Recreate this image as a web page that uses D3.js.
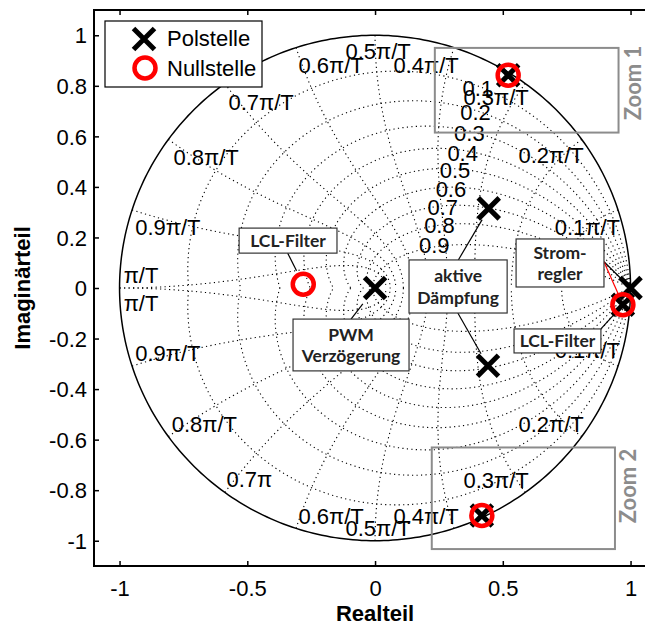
<!DOCTYPE html>
<html><head><meta charset="utf-8">
<script src="https://cdn.jsdelivr.net/npm/d3@7"></script>
<style>body{margin:0;background:#fff}svg{display:block}</style>
</head><body><svg id="c" width="645" height="626"></svg>
<script>
// ---------- data ----------
const xTicks = [-1, -0.5, 0, 0.5, 1];
const xTickLabels = ["-1", "-0.5", "0", "0.5", "1"];
const yTicks = [-1, -0.8, -0.6, -0.4, -0.2, 0, 0.2, 0.4, 0.6, 0.8, 1];
const yTickLabels = ["-1", "-0.8", "-0.6", "-0.4", "-0.2", "0", "0.2", "0.4", "0.6", "0.8", "1"];
const zetaValues = [0.1, 0.2, 0.3, 0.4, 0.5, 0.6, 0.7, 0.8, 0.9];
const wnValues = [0.1, 0.2, 0.3, 0.4, 0.5, 0.6, 0.7, 0.8, 0.9, 1.0]; // × π/T
const poleRe = [0, 0.445, 0.442, 0.521, 0.418, 1.0, 0.97];
const poleIm = [0, 0.315, -0.308, 0.842, -0.900, 0, -0.066];
const zeroRe = [-0.281, 0.521, 0.418, 0.97];
const zeroIm = [0.015, 0.842, -0.900, -0.066];
const zetaLabels = ["0.1", "0.2", "0.3", "0.4", "0.5", "0.6", "0.7", "0.8", "0.9"];
const freqLabelsUpper = ["0.1π/T", "0.2π/T", "0.3π/T", "0.4π/T", "0.5π/T", "0.6π/T", "0.7π/T", "0.8π/T", "0.9π/T", "π/T"];
const freqLabelsLower = ["0.1π/T", "0.2π/T", "0.3π/T", "0.4π/T", "0.5π/T", "0.6π/T", "0.7π", "0.8π/T", "0.9π/T", "π/T"];
const legendLabels = ["Polstelle", "Nullstelle"];

// ---------- label anchors (data units) ----------
const zetaLabelPos = [[0.402,0.789],[0.393,0.697],[0.369,0.611],[0.343,0.532],[0.313,0.466],[0.297,0.390],[0.265,0.321],[0.252,0.249],[0.232,0.170]];
const freqUpperPos = [[0.831,0.242],[0.689,0.526],[0.474,0.756],[0.200,0.881],[0.012,0.937],[-0.172,0.881],[-0.446,0.736],[-0.661,0.519],[-0.811,0.242],[-0.916,0.051]];
const freqLowerPos = [[0.831,-0.245],[0.689,-0.541],[0.474,-0.759],[0.200,-0.904],[0.012,-0.949],[-0.172,-0.904],[-0.492,-0.756],[-0.668,-0.541],[-0.811,-0.258],[-0.916,-0.060]];

const annotations = [
  {lines:["LCL-Filter"], box:[-0.532,0.237,-0.149,0.138], leaders:[{from:[-0.342,0.138], to:{type:"zero",i:0}, gap:15, color:"#000"}]},
  {lines:["PWM","Verzögerung"], box:[-0.321,-0.123,0.133,-0.328], leaders:[{from:[-0.094,-0.123], to:{type:"pole",i:0}, gap:20, color:"#000"}]},
  {lines:["aktive","Dämpfung"], box:[0.133,0.111,0.517,-0.099], leaders:[{from:[0.326,0.111], to:{type:"pole",i:1}, gap:13, color:"#000"},{from:[0.324,-0.099], to:{type:"pole",i:2}, gap:14, color:"#000"}]},
  {lines:["Strom-","regler"], box:[0.552,0.194,0.896,0.004], leaders:[{from:[0.896,0.104], to:{type:"pole",i:5}, gap:0, color:"#000"},{from:[0.896,0.104], to:{type:"zero",i:3}, gap:11, color:"#f00"}]},
  {lines:["LCL-Filter"], box:[0.544,-0.162,0.884,-0.257], leaders:[{from:[0.884,-0.162], to:{type:"pole",i:6}, gap:13, color:"#000"}]}
];
const zoomBoxes = [
  {label:"Zoom 1", box:[0.234,0.95,0.953,0.615], tx:633, ty:83},
  {label:"Zoom 2", box:[0.222,-0.631,0.939,-1.033], tx:628, ty:486}
];

// ---------- setup ----------
const svg = d3.select("#c");
const FONT = "'Liberation Sans', Arial, Helvetica, sans-serif";
const BOXFONT = "Lato, 'Open Sans', sans-serif";
const x = d3.scaleLinear().domain([-1.1, 1.1]).range([94, 94 + 2.2 * 255.5]);
const y = d3.scaleLinear().domain([-1.1, 1.1]).range([566, 10]);

// ---------- grid (zgrid) ----------
const line = d3.line().x(d => x(d[0])).y(d => y(d[1]));
const gGrid = svg.append("g").attr("fill", "none").attr("stroke", "#000")
  .attr("stroke-width", 1.1).attr("stroke-dasharray", "1.2,3.3");
const N = 240;
zetaValues.forEach(z => {
  const m = Math.tan(Math.asin(z));
  const pts = d3.range(N + 1).map(k => {
    const w = Math.PI * k / N;
    const r = Math.exp(-m * w);
    return [r * Math.cos(w), r * Math.sin(w)];
  });
  gGrid.append("path").attr("d", line(pts));
  gGrid.append("path").attr("d", line(pts.map(p => [p[0], -p[1]])));
});
wnValues.forEach(f => {
  const wn = f * Math.PI;
  const pts = d3.range(N + 1).map(k => {
    const th = Math.PI / 2 + (Math.PI / 2) * k / N;
    const r = Math.exp(wn * Math.cos(th));
    const a = wn * Math.sin(th);
    return [r * Math.cos(a), r * Math.sin(a)];
  });
  gGrid.append("path").attr("d", line(pts));
  gGrid.append("path").attr("d", line(pts.map(p => [p[0], -p[1]])));
});

// unit circle
const circPts = d3.range(361).map(k => [Math.cos(k * Math.PI / 180), Math.sin(k * Math.PI / 180)]);
svg.append("path").attr("d", line(circPts)).attr("fill", "none").attr("stroke", "#000").attr("stroke-width", 1.5);

// grid labels
const gLab = svg.append("g").attr("font-family", FONT).attr("font-size", 22).attr("fill", "#000").attr("text-anchor", "middle");
zetaLabels.forEach((t, i) => gLab.append("text").attr("x", x(zetaLabelPos[i][0])).attr("y", y(zetaLabelPos[i][1])).attr("dy", "0.35em").text(t));
freqLabelsUpper.forEach((t, i) => gLab.append("text").attr("x", x(freqUpperPos[i][0])).attr("y", y(freqUpperPos[i][1])).attr("dy", "0.35em").text(t));
freqLabelsLower.forEach((t, i) => gLab.append("text").attr("x", x(freqLowerPos[i][0])).attr("y", y(freqLowerPos[i][1])).attr("dy", "0.35em").text(t));

// zoom boxes
zoomBoxes.forEach(zb => {
  svg.append("rect").attr("x", x(zb.box[0])).attr("y", y(zb.box[1]))
    .attr("width", x(zb.box[2]) - x(zb.box[0])).attr("height", y(zb.box[3]) - y(zb.box[1]))
    .attr("fill", "none").attr("stroke", "#8c8c8c").attr("stroke-width", 2);
  svg.append("text").attr("transform", `translate(${zb.tx},${zb.ty}) rotate(-90)`)
    .attr("text-anchor", "middle").attr("dy", "0.36em").attr("font-family", BOXFONT).attr("font-weight", "bold")
    .attr("font-size", 22).attr("fill", "#8c8c8c").text(zb.label);
});

// ---------- leaders ----------
function target(t) {
  return t.type === "pole" ? [poleRe[t.i], poleIm[t.i]] : [zeroRe[t.i], zeroIm[t.i]];
}
annotations.forEach(a => a.leaders.forEach(l => {
  const x0 = x(l.from[0]), y0 = y(l.from[1]);
  const tp = target(l.to);
  const x1 = x(tp[0]), y1 = y(tp[1]);
  const d = Math.hypot(x1 - x0, y1 - y0);
  const s = (d - l.gap) / d;
  svg.append("line").attr("x1", x0).attr("y1", y0).attr("x2", x0 + (x1 - x0) * s).attr("y2", y0 + (y1 - y0) * s)
    .attr("stroke", l.color).attr("stroke-width", 1.2);
}));

// ---------- markers ----------
function drawX(g, cx, cy, h, sw) {
  g.append("path").attr("d", `M${cx - h},${cy - h}L${cx + h},${cy + h}M${cx - h},${cy + h}L${cx + h},${cy - h}`)
    .attr("stroke", "#000").attr("stroke-width", sw).attr("fill", "none");
}
const gM = svg.append("g");
poleRe.forEach((re, i) => drawX(gM, x(re), y(poleIm[i]), 10.5, 5));
zeroRe.forEach((re, i) => gM.append("circle").attr("cx", x(re)).attr("cy", y(zeroIm[i])).attr("r", 10.5)
  .attr("fill", "none").attr("stroke", "#ff0000").attr("stroke-width", 4.5));

// ---------- annotation boxes ----------
annotations.forEach(a => {
  const bx = x(a.box[0]), by = y(a.box[1]), bw = x(a.box[2]) - bx, bh = y(a.box[3]) - by;
  svg.append("rect").attr("x", bx).attr("y", by).attr("width", bw).attr("height", bh)
    .attr("fill", "#fff").attr("stroke", "#333").attr("stroke-width", 1.2);
  const cx = bx + bw / 2, cy = by + bh / 2, lh = 21.5;
  a.lines.forEach((t, k) => {
    svg.append("text").attr("x", cx).attr("y", cy + (k - (a.lines.length - 1) / 2) * lh).attr("dy", "0.36em")
      .attr("text-anchor", "middle").attr("font-family", BOXFONT).attr("font-weight", "bold")
      .attr("font-size", 17.5).attr("fill", "#222").text(t);
  });
});

// ---------- axes ----------
const ax = d3.axisBottom(x).tickValues(xTicks).tickFormat((d, i) => xTickLabels[i]).tickSizeInner(-5).tickSizeOuter(0).tickPadding(14);
const gx = svg.append("g").attr("transform", `translate(0,${y(-1.1)})`).call(ax);
const axT = d3.axisTop(x).tickValues(xTicks).tickFormat("").tickSizeInner(-5).tickSizeOuter(0);
const gxt = svg.append("g").attr("transform", `translate(0,${y(1.1)})`).call(axT);
const ay = d3.axisLeft(y).tickValues(yTicks).tickFormat((d, i) => yTickLabels[i]).tickSizeInner(-5).tickSizeOuter(0).tickPadding(7);
const gy = svg.append("g").attr("transform", `translate(${x(-1.1)},0)`).call(ay);
const ayR = d3.axisRight(y).tickValues(yTicks).tickFormat("").tickSizeInner(-5).tickSizeOuter(0);
const gyr = svg.append("g").attr("transform", `translate(${x(1.1)},0)`).call(ayR);
[gx, gxt, gy, gyr].forEach(g => {
  g.select(".domain").remove();
  g.selectAll(".tick line").attr("stroke", "#000").attr("stroke-width", 1.5);
  g.selectAll("text").attr("font-family", FONT).attr("font-size", 22).attr("fill", "#000");
});
gy.selectAll("text").attr("dy", "0.35em");
svg.append("rect").attr("x", x(-1.1)).attr("y", y(1.1)).attr("width", x(1.1) - x(-1.1)).attr("height", y(-1.1) - y(1.1))
  .attr("fill", "none").attr("stroke", "#000").attr("stroke-width", 2);

svg.append("text").attr("x", x(0)).attr("y", 621).attr("text-anchor", "middle").attr("font-family", FONT)
  .attr("font-weight", "bold").attr("font-size", 22).text("Realteil");
svg.append("text").attr("transform", `translate(30,${y(0)}) rotate(-90)`).attr("text-anchor", "middle").attr("font-family", FONT)
  .attr("font-weight", "bold").attr("font-size", 22).text("Imaginärteil");

// ---------- legend ----------
const gL = svg.append("g");
gL.append("rect").attr("x", 105).attr("y", 21).attr("width", 157).attr("height", 66).attr("fill", "#fff").attr("stroke", "#000").attr("stroke-width", 1.2);
drawX(gL, 144, 39, 10.5, 5);
gL.append("circle").attr("cx", 145).attr("cy", 68).attr("r", 10.5).attr("fill", "none").attr("stroke", "#ff0000").attr("stroke-width", 4.5);
legendLabels.forEach((t, i) => gL.append("text").attr("x", 167).attr("y", i === 0 ? 46 : 76).attr("font-family", FONT).attr("font-size", 22).text(t));
</script></body></html>
